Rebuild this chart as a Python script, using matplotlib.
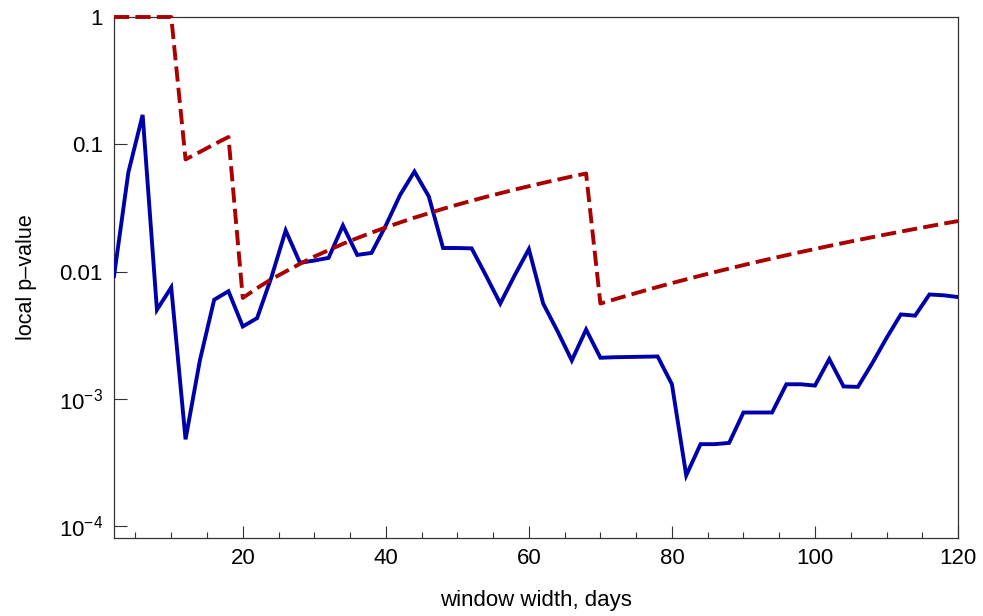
import numpy as np
import matplotlib
matplotlib.use("Agg")
import matplotlib.pyplot as plt
from matplotlib.ticker import FixedLocator, FixedFormatter, MultipleLocator

plt.rcParams['font.family'] = ['Liberation Sans', 'DejaVu Sans']
plt.rcParams['mathtext.fontset'] = 'custom'
plt.rcParams['mathtext.rm'] = 'Liberation Sans'
plt.rcParams['mathtext.it'] = 'Liberation Sans'

# window widths, every 2 days
widths = list(range(2, 121, 2))

# local p-value (blue, solid)
local_p = [
    0.0092, 0.060, 0.170, 0.0050, 0.0075, 0.00048, 0.0020, 0.0060, 0.0070, 0.0037,
    0.0043, 0.0090, 0.021, 0.0117, 0.0122, 0.0128, 0.023, 0.0135, 0.014, 0.023,
    0.040, 0.061, 0.039, 0.0153, 0.0153, 0.0152, 0.0093, 0.0056, 0.0093, 0.0150,
    0.0056, 0.0034, 0.0020, 0.0035, 0.0021, 0.00212, 0.00213, 0.00214, 0.00215, 0.0013,
    0.00025, 0.00044, 0.00044, 0.00045, 0.00078, 0.00078, 0.00078, 0.0013, 0.0013, 0.00127,
    0.00205, 0.00125, 0.00124, 0.0019, 0.0030, 0.0046, 0.0045, 0.0066, 0.0065, 0.0063,
]

# threshold / corrected curve (red, dashed)
threshold_p = [
    1.0, 1.0, 1.0, 1.0, 1.0, 0.076, 0.087, 0.100, 0.114, 0.0062,
    0.0074, 0.0087, 0.0100, 0.0115, 0.0131, 0.0147, 0.0165, 0.0183, 0.0202, 0.0222,
    0.0243, 0.0265, 0.0287, 0.0311, 0.0335, 0.0360, 0.0386, 0.0412, 0.0440, 0.0468,
    0.0497, 0.0527, 0.0558, 0.0589, 0.0056, 0.00605, 0.00653, 0.00703, 0.00756, 0.00811,
    0.00868, 0.00928, 0.0099, 0.01055, 0.01123, 0.01194, 0.01267, 0.01343, 0.01422, 0.01504,
    0.01589, 0.01677, 0.01767, 0.01861, 0.01958, 0.02059, 0.02162, 0.02269, 0.02379, 0.02492,
]

y_ticks = [1e-4, 1e-3, 1e-2, 1e-1, 1]
y_tick_labels = ['$10^{-4}$', '$10^{-3}$', '0.01', '0.1', '1']

fig = plt.figure(figsize=(9.83, 6.16), dpi=100)
ax = fig.add_axes([0.116, 0.1266, 0.8586, 0.8458])

ax.plot(widths, local_p, color='#0000aa', lw=2.8, solid_joinstyle='miter', zorder=3)
ax.plot(widths, threshold_p, color='#aa0000', lw=2.8, dashes=(3.9, 1.6), zorder=4,
        clip_on=False)

ax.set_yscale('log')
ax.set_xlim(2, 120)
ax.set_ylim(8.05e-5, 1)

ax.yaxis.set_major_locator(FixedLocator(y_ticks))
ax.yaxis.set_major_formatter(FixedFormatter(y_tick_labels))
ax.yaxis.set_minor_locator(FixedLocator([]))
ax.xaxis.set_major_locator(MultipleLocator(20))
ax.xaxis.set_minor_locator(MultipleLocator(5))

ax.tick_params(axis='both', which='major', direction='in', length=9, width=0.8,
               labelsize=16, color='#333333')
ax.tick_params(axis='x', which='minor', direction='in', length=4.5, width=0.8,
               color='#333333')
ax.tick_params(axis='x', pad=7)
ax.tick_params(axis='y', pad=8)

for sp in ax.spines.values():
    sp.set_linewidth(0.9)
    sp.set_color('#333333')

ax.set_xlabel('window width, days', fontsize=16, labelpad=15)
ax.set_ylabel('local p\u2013value', fontsize=15.5, labelpad=16)

fig.savefig('out.png', dpi=100)
